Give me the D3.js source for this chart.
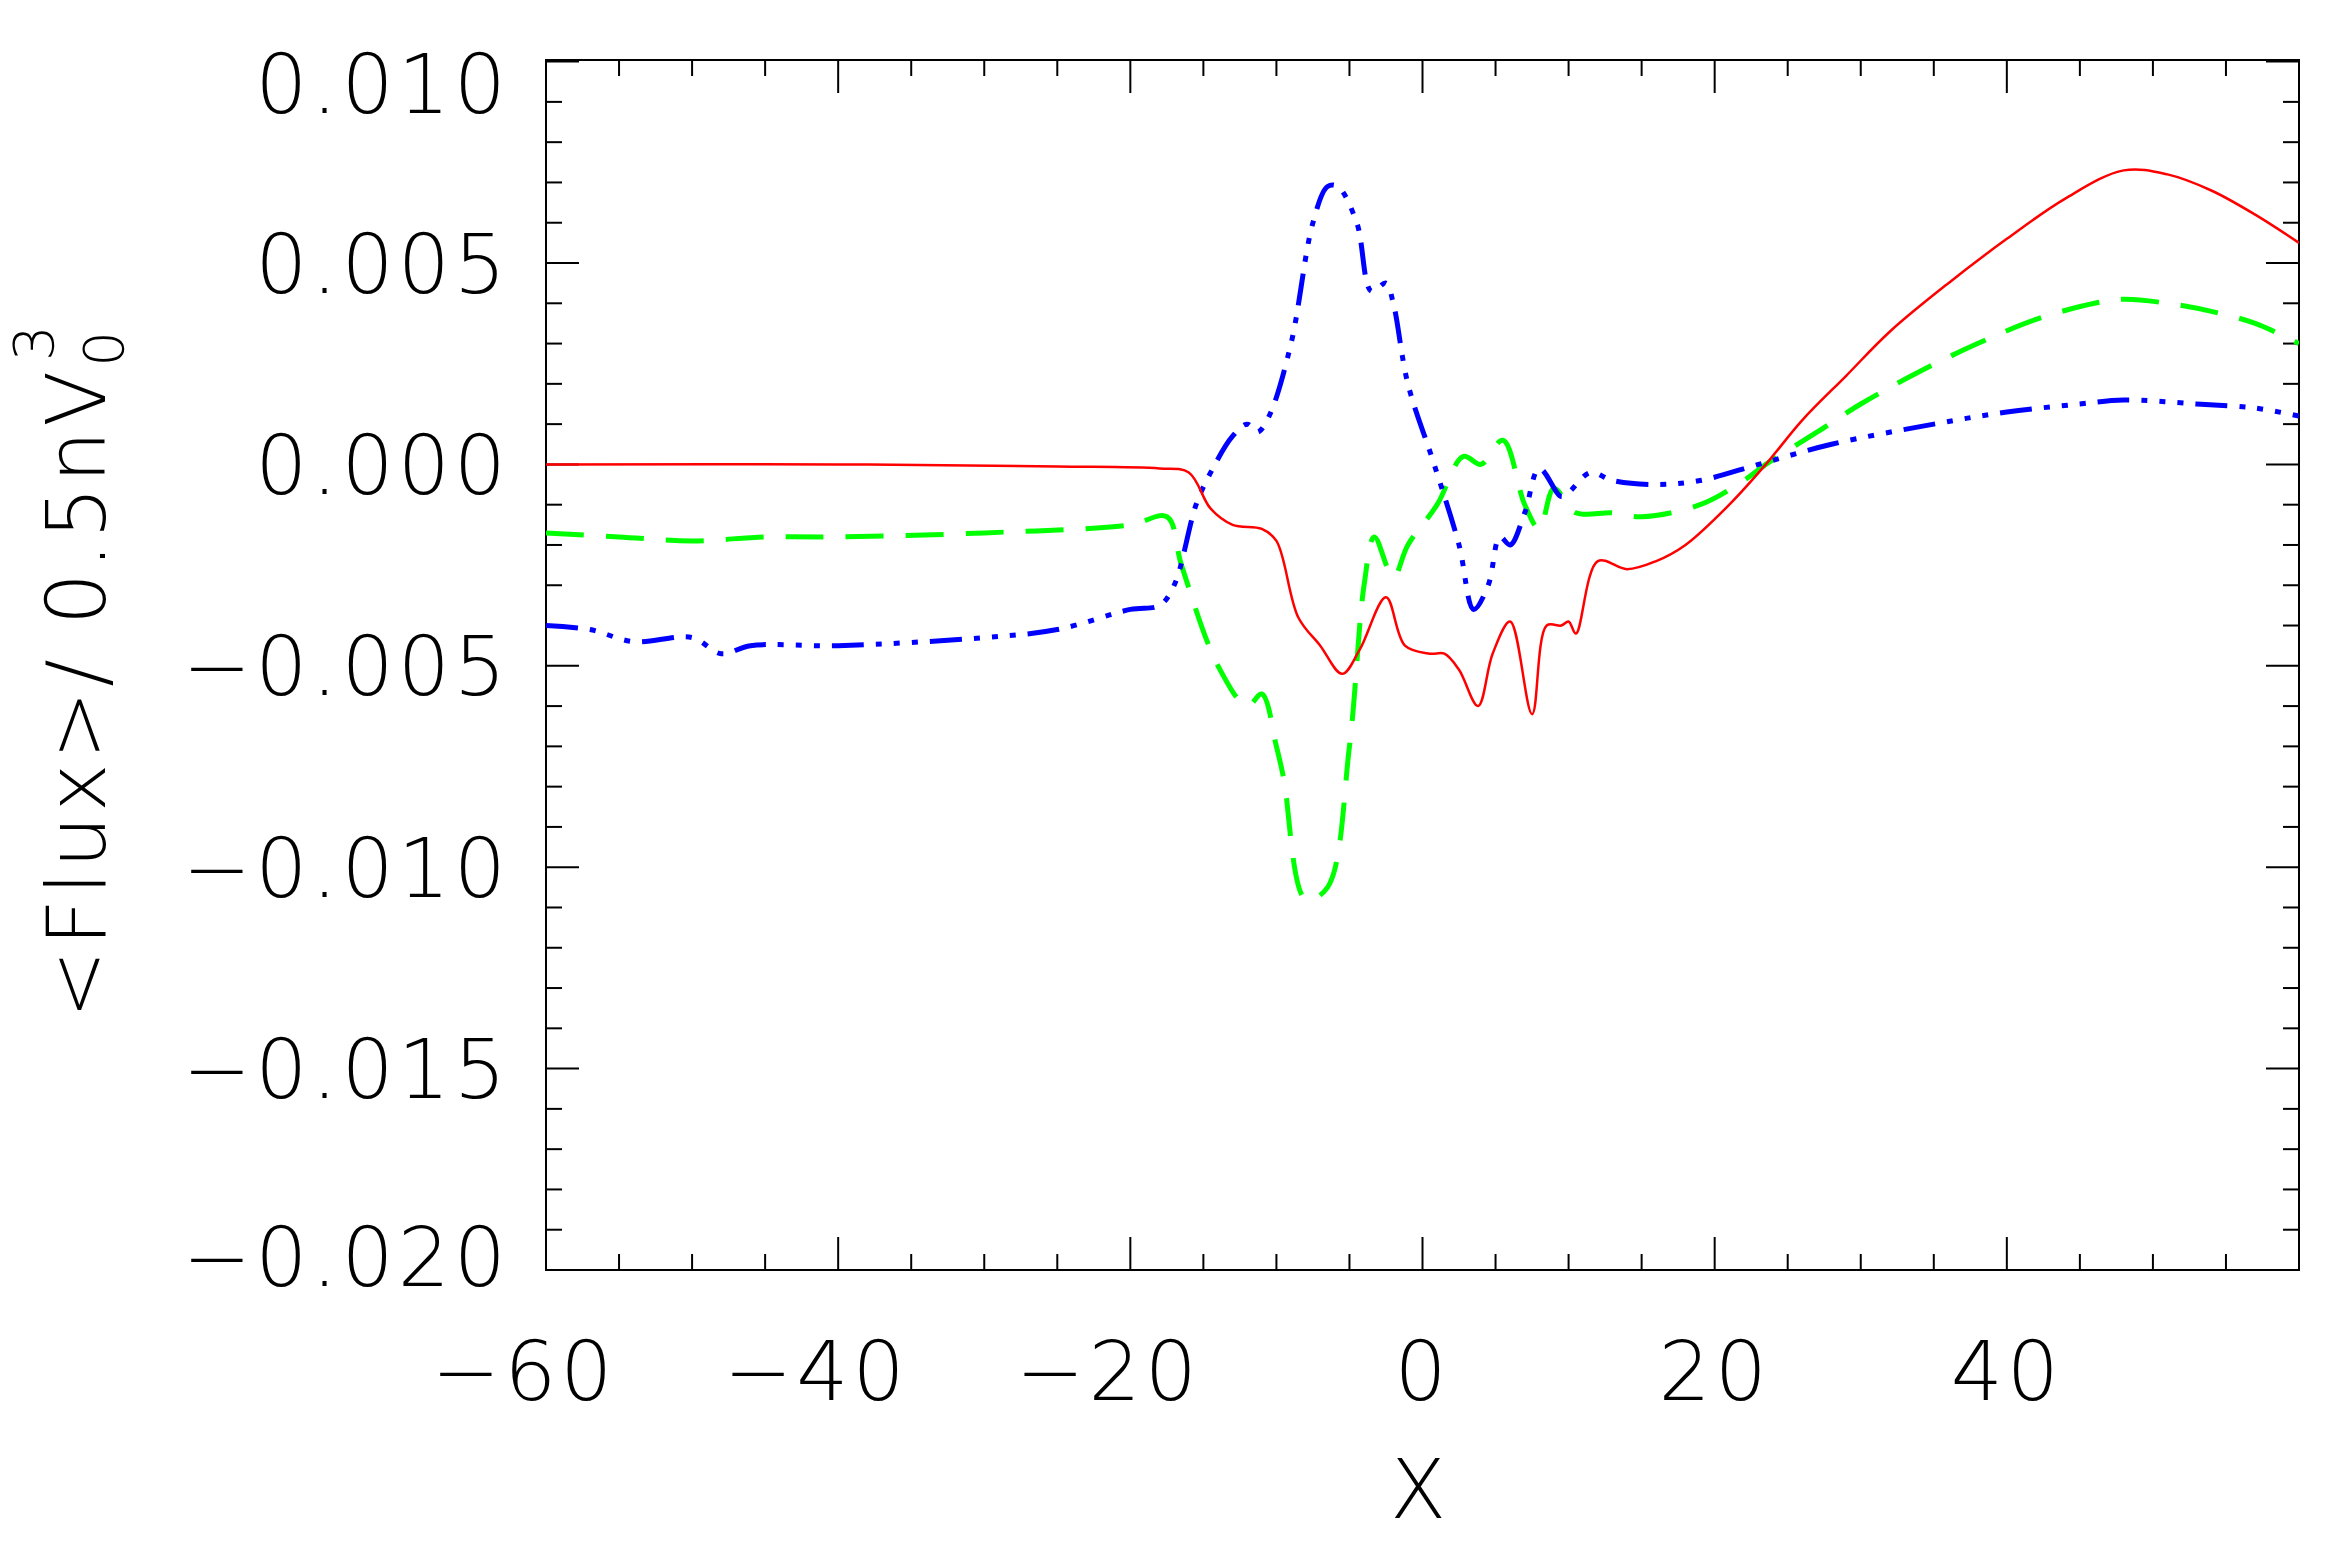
<!DOCTYPE html>
<html><head><meta charset="utf-8">
<script src="https://cdn.jsdelivr.net/npm/d3@7"></script>
<style>body{margin:0;background:#fff}</style></head>
<body><svg id="c" width="2341" height="1549"></svg>
<script>
const xTicks=[-60,-40,-20,0,20,40];
const yTicks=[0.010,0.005,0.000,-0.005,-0.010,-0.015,-0.020];
const redX=[-60,-40,-25,-18,-16,-14.5,-13,-11,-10,-8.5,-7,-5.5,-4.3,-2.5,-1.2,0.5,1.5,2.5,3.8,4.8,6,7.5,8.5,9.5,10,10.5,12,14,16,18,21,23.5,26,29,32,36,40,44,48,51,54,57,60];
const redY=[0,0,-0.00005,-0.0001,-0.0002,-0.0011,-0.0015,-0.0016,-0.0019,-0.0038,-0.0045,-0.0052,-0.0046,-0.0033,-0.0045,-0.0047,-0.0047,-0.0051,-0.0060,-0.0047,-0.0039,-0.0062,-0.0040,-0.0040,-0.0039,-0.0042,-0.0024,-0.0026,-0.0024,-0.0020,-0.0010,0,0.0011,0.0022,0.0033,0.0045,0.0056,0.0066,0.0073,0.0072,0.0068,0.0062,0.0055];
const greenX=[-60,-55,-50,-45,-40,-30,-20,-17.5,-16.5,-14,-12,-11,-10,-9.5,-8,-6.5,-5,-4,-3.3,-2,-1,1,2.8,4,5.5,7,8,9,10.5,13,15,19,22,23.5,27,30,34,38,42,46,48,51,54,57,60];
const greenY=[-0.0017,-0.0018,-0.0019,-0.0018,-0.0018,-0.0017,-0.0015,-0.0013,-0.0025,-0.0050,-0.0060,-0.0057,-0.0070,-0.0078,-0.0108,-0.0105,-0.0070,-0.0030,-0.0018,-0.0028,-0.0020,-0.0010,0.0002,0,0.0006,-0.0010,-0.0016,-0.0006,-0.0012,-0.0012,-0.0013,-0.0010,-0.0004,0,0.0008,0.0015,0.0023,0.0030,0.0036,0.0040,0.0041,0.0040,0.0038,0.0035,0.0030];
const blueX=[-60,-57,-54,-50,-48,-46,-40,-30,-25,-20,-18,-17,-15.5,-14.5,-13,-12,-11.3,-10.5,-9,-7.5,-6.5,-5.8,-4.5,-3.5,-2.5,-2,-1,0.8,2.5,3.5,4.5,5.3,6,7,8,9.5,10,11.5,13,16,19,23,28,35,40,45,48,53,57,60];
const blueY=[-0.0040,-0.0041,-0.0044,-0.0043,-0.0047,-0.0045,-0.0045,-0.0043,-0.0041,-0.0036,-0.0035,-0.0030,-0.0010,-0.0002,0.0007,0.0010,0.0008,0.0012,0.0030,0.0060,0.0069,0.0069,0.0060,0.0043,0.0045,0.0040,0.0020,0,-0.0020,-0.0036,-0.0030,-0.0018,-0.0020,-0.0012,-0.0001,-0.0008,-0.0007,-0.0002,-0.0004,-0.0005,-0.0004,0,0.0005,0.0010,0.0013,0.0015,0.0016,0.0015,0.0014,0.0012];

const svg=d3.select("#c");
const L=546,R=2299,T=60,B=1270;
const x=d3.scaleLinear().domain([-60,60]).range([L,R]);
const y=d3.scaleLinear().domain([-0.020,0.01004]).range([B,T]);
const font="'DejaVu Sans', sans-serif";
const g=svg.append("g").attr("stroke","#000").attr("stroke-width",2);
g.append("rect").attr("x",L).attr("y",T).attr("width",R-L).attr("height",B-T).attr("fill","none");
for(let v=-60;v<=60;v+=5){const maj=v%20===0;const len=maj?33:16;
 g.append("line").attr("x1",x(v)).attr("x2",x(v)).attr("y1",B).attr("y2",B-len);
 g.append("line").attr("x1",x(v)).attr("x2",x(v)).attr("y1",T).attr("y2",T+len);}
for(let i=-20;i<=10;i++){const v=i*0.001;const maj=i%5===0;const len=maj?33:16;
 g.append("line").attr("y1",y(v)).attr("y2",y(v)).attr("x1",L).attr("x2",L+len);
 g.append("line").attr("y1",y(v)).attr("y2",y(v)).attr("x1",R).attr("x2",R-len);}
const fmt=v=>(v<0?"\u2212":"")+Math.abs(v).toFixed(3);
const txt=s=>s.attr("font-family",font).attr("font-weight",200).attr("font-size",82).attr("letter-spacing",4);
txt(svg.selectAll(".yl").data(yTicks).enter().append("text")
 .attr("x",510).attr("y",d=>y(d)+(d===0.010?22:d===-0.020?-14:0)).attr("dy","0.36em")
 .attr("text-anchor","end")).text(fmt);
txt(svg.selectAll(".xl").data(xTicks).enter().append("text")
 .attr("x",d=>x(d)-(d<0?22:0)).attr("y",1400).attr("text-anchor","middle")).text(d=>(d<0?"\u2212":"")+Math.abs(d));
txt(svg.append("text").attr("x",1420).attr("y",1518).attr("text-anchor","middle")).text("X");
const yl=txt(svg.append("text").attr("transform","translate(105,670) rotate(-90)").attr("text-anchor","middle"));
yl.append("tspan").text("<Flux>/ 0.5nV");
yl.append("tspan").attr("font-size",56).attr("dy",18).text("0");
yl.append("tspan").attr("font-size",56).attr("dy",-70).attr("dx",-34).text("3");
const line=d3.line().x(d=>x(d[0])).y(d=>y(d[1])).curve(d3.curveCatmullRom);
svg.append("clipPath").attr("id","cp").append("rect").attr("x",L).attr("y",T).attr("width",R-L).attr("height",B-T);
const P=svg.append("g").attr("clip-path","url(#cp)").attr("fill","none");
P.append("path").attr("d",line(greenX.map((v,i)=>[v,greenY[i]]))).attr("stroke","#00ff00").attr("stroke-width",5).attr("stroke-dasharray","38 22");
P.append("path").attr("d",line(blueX.map((v,i)=>[v,blueY[i]]))).attr("stroke","#0000ff").attr("stroke-width",5).attr("stroke-dasharray","32 12 6 12 6 12 6 12");
P.append("path").attr("d",line(redX.map((v,i)=>[v,redY[i]]))).attr("stroke","#ff0000").attr("stroke-width",2.5);
</script></body></html>
